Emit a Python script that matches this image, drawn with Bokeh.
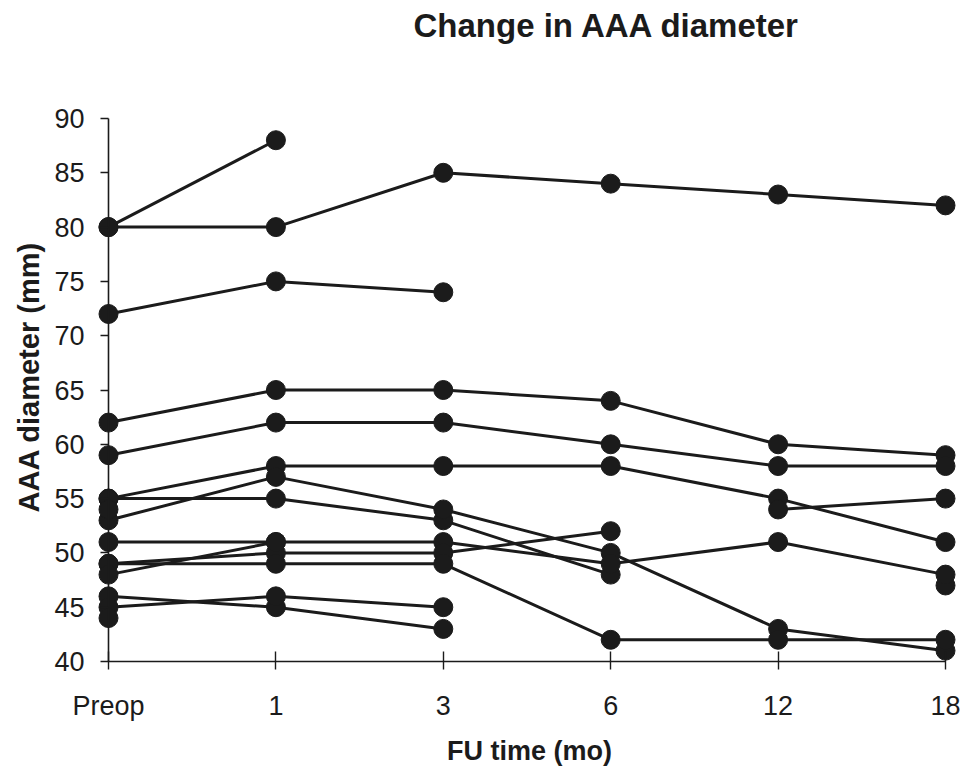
import math
from bokeh.plotting import figure
from bokeh.models import FixedTicker, Range1d, LinearAxis, Title
from bokeh.embed import file_html
from bokeh.resources import INLINE

nan = float("nan")

# Follow-up time points (categorical, equally spaced)
time_labels = ["Preop", "1", "3", "6", "12", "18"]
time_pos = [0, 1, 2, 3, 4, 5]
y_ticks = [40, 45, 50, 55, 60, 65, 70, 75, 80, 85, 90]

# AAA diameter (mm) per patient at Preop, 1, 3, 6, 12, 18 months (nan = not measured)
patient_01 = [80, 88, nan, nan, nan, nan]
patient_02 = [80, 80, 85, 84, 83, 82]
patient_03 = [72, 75, 74, nan, nan, nan]
patient_04 = [62, 65, 65, 64, 60, 59]
patient_05 = [59, 62, 62, 60, 58, 58]
patient_06 = [55, 58, 58, 58, 55, 51]
patient_07 = [55, 55, 53, 48, nan, 47]
patient_08 = [53, 57, 54, 50, 43, 41]
patient_09 = [51, 51, 51, 49, 51, 48]
patient_10 = [49, 50, 50, 52, nan, nan]
patient_11 = [49, 49, 49, 42, 42, 42]
patient_12 = [48, 51, nan, nan, nan, nan]
patient_13 = [46, 45, 43, nan, nan, nan]
patient_14 = [45, 46, 45, nan, nan, nan]
patient_15 = [54, nan, nan, nan, 54, 55]
patient_16 = [44, nan, nan, nan, nan, nan]

patients = [patient_01, patient_02, patient_03, patient_04, patient_05, patient_06,
            patient_07, patient_08, patient_09, patient_10, patient_11, patient_12,
            patient_13, patient_14, patient_15, patient_16]

INK = "#1b1b1b"
FONT = "Liberation Sans"

# geometry: x unit = 167.4 px, y unit = 10.86 px
W, H = 967, 770
fl, fr, ft, fb = 96, 962, 46, 672
xu = 167.4
yu = 10.86
x0_px, y40_px = 108, 661

p = figure(width=W, height=H, output_backend="svg", toolbar_location=None,
           x_range=Range1d(-(x0_px - fl) / xu, 5 + (fr - 945) / xu),
           y_range=Range1d(40 - (fb - y40_px) / yu, 40 + (y40_px - ft) / yu),
           min_border_left=fl, min_border_right=W - fr,
           min_border_top=ft, min_border_bottom=H - fb)

for vals in patients:
    p.line(time_pos, vals, line_color=INK, line_width=3)
    xs = [t for t, v in zip(time_pos, vals) if not math.isnan(v)]
    ys = [v for v in vals if not math.isnan(v)]
    p.scatter(xs, ys, size=19, fill_color=INK, line_color=INK)

p.xgrid.visible = False
p.ygrid.visible = False
p.outline_line_color = None
p.background_fill_color = "white"
p.border_fill_color = "white"

# label-carrying axes at the frame edges (no lines/ticks)
p.xaxis.ticker = FixedTicker(ticks=time_pos)
p.xaxis.major_label_overrides = {t: lab for t, lab in zip(time_pos, time_labels)}
p.yaxis.ticker = FixedTicker(ticks=y_ticks)
for ax in (p.xaxis, p.yaxis):
    ax.axis_line_color = None
    ax.major_tick_line_color = None
    ax.minor_tick_line_color = None
    ax.major_tick_out = 0
    ax.major_tick_in = 0
    ax.major_label_text_font = FONT
    ax.major_label_text_font_size = "27px"
    ax.major_label_text_color = INK
    ax.axis_label_text_font = FONT
    ax.axis_label_text_font_style = "bold"
    ax.axis_label_text_color = INK

p.xaxis.major_label_standoff = 18
p.xaxis.axis_label = "FU time (mo)"
p.xaxis.axis_label_text_font_size = "27px"
p.xaxis.axis_label_standoff = 12
p.yaxis.major_label_standoff = 12

# axis lines with ticks, placed at Preop / 40 mm
x_line = LinearAxis(ticker=FixedTicker(ticks=time_pos), fixed_location=40, bounds=(0, 5),
                    major_label_text_font_size="0px", major_tick_out=8, major_tick_in=10)
y_line = LinearAxis(ticker=FixedTicker(ticks=y_ticks), fixed_location=0, bounds=(40, 90),
                    major_label_text_font_size="0px", major_tick_out=8, major_tick_in=0)
for ax in (x_line, y_line):
    ax.axis_line_color = INK
    ax.axis_line_width = 1.6
    ax.major_tick_line_color = INK
    ax.major_tick_line_width = 1.4
    ax.minor_tick_line_color = None
    ax.major_label_text_color = None
p.add_layout(x_line, "below")
p.add_layout(y_line, "left")

# y axis title (rotated), positioned along the left side
p.add_layout(Title(text="AAA diameter (mm)", text_font=FONT, text_font_style="bold",
                   text_font_size="29px", text_color=INK, align="left", offset=160,
                   standoff=14), "left")

p.title.text = "Change in AAA diameter"
p.title.text_font = FONT
p.title.text_font_style = "bold"
p.title.text_font_size = "33px"
p.title.text_color = INK
p.title.align = "left"
p.title.offset = 317
p.title.standoff = 6

open("out.html", "w").write(file_html(p, INLINE))
